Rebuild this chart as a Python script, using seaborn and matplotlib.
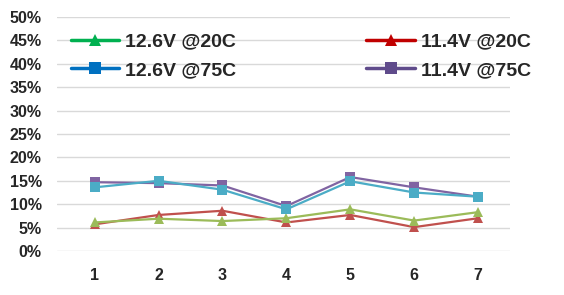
import matplotlib
matplotlib.use("Agg")
import matplotlib.pyplot as plt
import seaborn as sns
import pandas as pd
from matplotlib.ticker import PercentFormatter, MultipleLocator
from matplotlib.lines import Line2D

x = [1, 2, 3, 4, 5, 6, 7]
v114_20 = [0.057, 0.077, 0.086, 0.061, 0.077, 0.051, 0.070]
v114_75 = [0.147, 0.145, 0.140, 0.096, 0.158, 0.136, 0.116]
v126_20 = [0.061, 0.069, 0.064, 0.070, 0.089, 0.065, 0.083]
v126_75 = [0.136, 0.150, 0.131, 0.089, 0.149, 0.125, 0.116]
series = ["11.4V @20C", "11.4V @75C", "12.6V @20C", "12.6V @75C"]
line_colors = {"11.4V @20C": "#C0504D", "11.4V @75C": "#8064A2",
               "12.6V @20C": "#9BBB59", "12.6V @75C": "#4BACC6"}
legend_colors = {"12.6V @20C": "#00B050", "12.6V @75C": "#0070C0",
                 "11.4V @20C": "#C00000", "11.4V @75C": "#5F4B8B"}
markers = {"11.4V @20C": "^", "11.4V @75C": "s", "12.6V @20C": "^", "12.6V @75C": "s"}

df = pd.concat([
    pd.DataFrame({"x": x, "y": vals, "series": name})
    for name, vals in zip(series, [v114_20, v114_75, v126_20, v126_75])
])

sns.set_theme(style="white")
plt.rcParams["font.family"] = ["Liberation Sans", "DejaVu Sans"]
fig = plt.figure(figsize=(5.64, 2.95), dpi=100)
ax = fig.add_axes([57/564, 44/295, 453/564, 234/295])

for name in series:
    sub = df[df["series"] == name]
    sns.lineplot(data=sub, x="x", y="y", ax=ax, color=line_colors[name],
                 marker=markers[name], markersize=7.5, markeredgewidth=0,
                 linewidth=1.6, legend=False)

ax.set_xlim(0.41, 7.5)
ax.set_ylim(0, 0.5)
ax.yaxis.set_major_locator(MultipleLocator(0.05))
ax.yaxis.set_major_formatter(PercentFormatter(1.0, decimals=0))
ax.set_xticks(x)
ax.grid(axis="y", color="#D9D9D9", linewidth=1)
ax.grid(axis="x", visible=False)
ax.set_axisbelow(True)
for s in ax.spines.values():
    s.set_visible(False)
ax.set_xlabel("")
ax.set_ylabel("")
ax.tick_params(axis="both", length=0, labelsize=11.5)
ax.tick_params(axis="y", pad=11)
ax.tick_params(axis="x", pad=12)
for lbl in ax.get_xticklabels() + ax.get_yticklabels():
    lbl.set_fontweight("bold")

order = ["12.6V @20C", "12.6V @75C", "11.4V @20C", "11.4V @75C"]
handles = [Line2D([0], [0], color=legend_colors[n], marker=markers[n], markersize=9,
                  linewidth=2.5, markeredgewidth=0) for n in order]
leg = ax.legend(handles, order, ncol=2, loc="upper left", bbox_to_anchor=(0.0, 0.99),
                frameon=False, prop={"weight": "bold", "size": 14},
                handlelength=2.5, handletextpad=0.3, columnspacing=6.7,
                labelspacing=0.56, borderaxespad=0.3)

fig.savefig("out.png", dpi=100)
